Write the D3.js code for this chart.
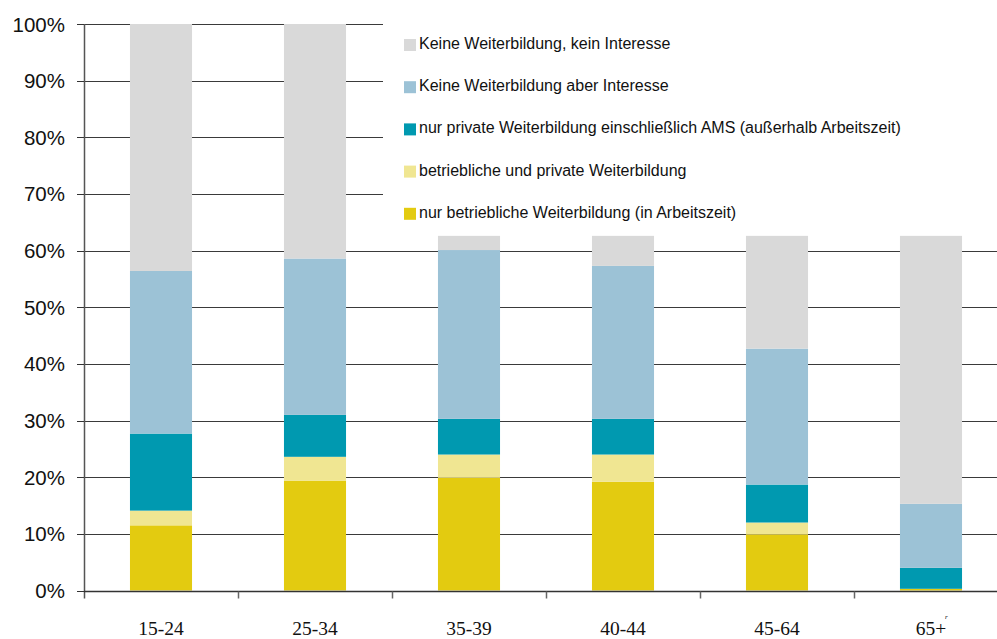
<!DOCTYPE html>
<html>
<head>
<meta charset="utf-8">
<script src="https://cdn.jsdelivr.net/npm/d3@7"></script>
<style>
  body { margin: 0; background: #fff; }
  .ytick { font-family: "Liberation Sans", Arial, sans-serif; font-size: 20.5px; fill: #111; }
  .xlab { font-family: "Liberation Serif", "Times New Roman", serif; font-size: 19.5px; fill: #111; }
  .legend { font-family: "Liberation Sans", Arial, sans-serif; font-size: 16px; fill: #111; }
</style>
</head>
<body>
<div id="chart"></div>
<script>
const width = 997;
const height = 639;

// data (percent)
const categories = ["15-24", "25-34", "35-39", "40-44", "45-64", "65+"];
const nurBetrieblich   = [11.5, 19.4, 19.9, 19.2, 9.9, 0.3];
const betriebUndPrivat = [2.6, 4.2, 4.1, 4.8, 2.1, 0.0];
const nurPrivat        = [13.6, 7.4, 6.3, 6.3, 6.7, 3.7];
const keineAberInt     = [28.7, 27.6, 29.8, 27.0, 24.0, 11.3];
const keineKeinInt     = [43.6, 41.4, 2.5, 5.3, 19.9, 47.3];
const yTicks = [0, 10, 20, 30, 40, 50, 60, 70, 80, 90, 100];

const seriesNames = [
   "nur betriebliche Weiterbildung (in Arbeitszeit)",
   "betriebliche und private Weiterbildung",
   "nur private Weiterbildung einschließlich AMS (außerhalb Arbeitszeit)",
   "Keine Weiterbildung aber Interesse",
   "Keine Weiterbildung, kein Interesse"
];
const seriesColors = ["#e3cb10", "#f0e692", "#0099b0", "#9cc2d6", "#d9d9d9"];
const seriesValues = [nurBetrieblich, betriebUndPrivat, nurPrivat, keineAberInt, keineKeinInt];

const margin = { top: 24, left: 84, bottom: 48 };
const plotRight = 84 + 6 * 154;

const svg = d3.select("#chart").append("svg")
   .attr("width", width)
   .attr("height", height);

const x = d3.scaleBand()
   .domain(categories)
   .range([margin.left, plotRight])
   .paddingInner(0.597)
   .paddingOuter(0.2985);

const y = d3.scaleLinear()
   .domain([0, 100])
   .range([height - margin.bottom - 0.5, margin.top]);

// gridlines
svg.append("g")
   .selectAll("line")
   .data(yTicks.filter(d => d > 0))
   .join("line")
   .attr("x1", margin.left)
   .attr("x2", plotRight)
   .attr("y1", d => Math.round(y(d)) + 0.5)
   .attr("y2", d => Math.round(y(d)) + 0.5)
   .attr("stroke", "#3a3a3a")
   .attr("stroke-width", 1);

// stacked data
const table = categories.map((c, i) => {
   const row = { cat: c };
   seriesNames.forEach((s, j) => row[s] = seriesValues[j][i]);
   return row;
});
const stacked = d3.stack().keys(seriesNames)(table);

svg.append("g")
   .selectAll("g")
   .data(stacked)
   .join("g")
   .attr("fill", (d, i) => seriesColors[i])
   .selectAll("rect")
   .data(d => d)
   .join("rect")
   .attr("x", d => x(d.data.cat))
   .attr("width", x.bandwidth())
   .attr("y", d => y(d[1]))
   .attr("height", d => Math.max(0, y(d[0]) - y(d[1])));

// legend box (covers gridlines)
const legX = 404;
const legY0 = 43;
const legStep = 42.2;
svg.append("rect")
   .attr("x", 383).attr("y", 14)
   .attr("width", width - 383).attr("height", 212)
   .attr("fill", "#fff");

const legendOrder = [4, 3, 2, 1, 0];
legendOrder.forEach((si, k) => {
   const cy = legY0 + k * legStep;
   svg.append("rect")
      .attr("x", legX).attr("y", cy - 4)
      .attr("width", 12).attr("height", 12)
      .attr("fill", seriesColors[si]);
   svg.append("text")
      .attr("class", "legend")
      .attr("x", legX + 15).attr("y", cy + 6)
      .text(seriesNames[si]);
});

// y axis
const y0 = Math.round(y(0)) + 0.5;
svg.append("line")
   .attr("x1", margin.left + 0.5).attr("x2", margin.left + 0.5)
   .attr("y1", margin.top).attr("y2", y0 + 7)
   .attr("stroke", "#555").attr("stroke-width", 1.5);

svg.append("g")
   .selectAll("line")
   .data(yTicks)
   .join("line")
   .attr("x1", 77).attr("x2", margin.left)
   .attr("y1", d => Math.round(y(d)) + 0.5)
   .attr("y2", d => Math.round(y(d)) + 0.5)
   .attr("stroke", "#333");

svg.append("g")
   .selectAll("text")
   .data(yTicks)
   .join("text")
   .attr("class", "ytick")
   .attr("x", 65)
   .attr("y", d => y(d) + 7.5)
   .attr("text-anchor", "end")
   .text(d => d + "%");

// x axis
svg.append("line")
   .attr("x1", margin.left).attr("x2", plotRight)
   .attr("y1", y0).attr("y2", y0)
   .attr("stroke", "#333").attr("stroke-width", 1.5);

svg.append("g")
   .selectAll("line")
   .data(categories.slice(1))
   .join("line")
   .attr("x1", d => Math.round(x(d) - x.step() * x.paddingInner() / 2) + 0.5)
   .attr("x2", d => Math.round(x(d) - x.step() * x.paddingInner() / 2) + 0.5)
   .attr("y1", y0).attr("y2", y0 + 7)
   .attr("stroke", "#666").attr("stroke-width", 1.5);

svg.append("g")
   .selectAll("text")
   .data(categories)
   .join("text")
   .attr("class", "xlab")
   .attr("x", d => x(d) + x.bandwidth() / 2)
   .attr("y", 635)
   .attr("text-anchor", "middle")
   .text(d => d);

// small stray mark next to 65+
svg.append("text")
   .attr("x", 945).attr("y", 619)
   .style("font-family", "Liberation Serif, serif")
   .style("font-size", "7px")
   .style("font-style", "italic")
   .text("r");
</script>
</body>
</html>
